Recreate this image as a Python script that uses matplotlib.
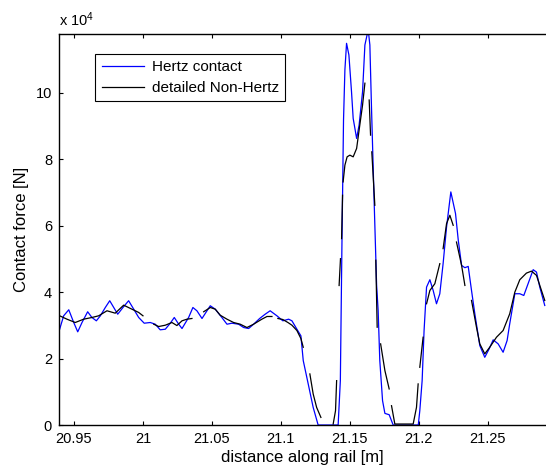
import numpy as np
import matplotlib
matplotlib.use('Agg')
from matplotlib import pyplot as plt
from matplotlib.ticker import FuncFormatter

plt.rcParams['font.family'] = ['Liberation Sans', 'DejaVu Sans']
plt.rcParams['mathtext.default'] = 'regular'

# Hertz contact, distance [m] and force [x 1e4 N]
x_hertz = [20.9396, 20.9425, 20.9462, 20.9498, 20.9527, 20.9558, 20.9599, 20.9630,
           20.9662, 20.9691, 20.9727, 20.9759, 20.9788, 20.9817, 20.9855, 20.9896,
           20.9933, 20.9969, 21.0009, 21.0053, 21.0089, 21.0125, 21.0162, 21.0198,
           21.0227, 21.0259, 21.0283, 21.0331, 21.0362, 21.0391, 21.0428, 21.0464,
           21.0488, 21.0524, 21.0572, 21.0609, 21.0645, 21.0693, 21.0730, 21.0766,
           21.0802, 21.0846, 21.0886, 21.0922, 21.0971, 21.1014, 21.1056, 21.1080,
           21.1116, 21.1145, 21.1162, 21.1198, 21.1234, 21.1270, 21.1379, 21.1415,
           21.1431, 21.1442, 21.1454, 21.1464, 21.1476, 21.1493, 21.1512, 21.1524,
           21.1549, 21.1567, 21.1592, 21.1609, 21.1633, 21.1645, 21.1657, 21.1674,
           21.1694, 21.1705, 21.1717, 21.1737, 21.1754, 21.1785, 21.1814, 21.1996,
           21.2007, 21.2024, 21.2038, 21.2056, 21.2080, 21.2104, 21.2128, 21.2152,
           21.2176, 21.2201, 21.2232, 21.2266, 21.2286, 21.2310, 21.2334, 21.2358,
           21.2382, 21.2406, 21.2442, 21.2478, 21.2510, 21.2539, 21.2575, 21.2611,
           21.2640, 21.2659, 21.2696, 21.2732, 21.2761, 21.2792, 21.2829, 21.2853,
           21.2877, 21.2913]
f_hertz = [2.884, 3.288, 3.469, 3.086, 2.805, 3.086, 3.409, 3.237,
           3.137, 3.288, 3.538, 3.741, 3.538, 3.336, 3.538, 3.741,
           3.487, 3.237, 3.065, 3.086, 3.035, 2.866, 2.884, 3.065,
           3.237, 3.035, 2.905, 3.237, 3.538, 3.439, 3.207, 3.439,
           3.590, 3.487, 3.237, 3.035, 3.065, 3.035, 2.935, 2.905,
           3.035, 3.207, 3.336, 3.439, 3.288, 3.137, 3.186, 3.137,
           2.884, 2.685, 1.940, 1.237, 0.531, 0.0, 0.0, 0.0,
           1.336, 5.258, 9.179, 10.69, 11.49, 11.14, 10.03, 9.23,
           8.627, 9.03, 10.03, 11.44, 11.9, 11.44, 9.53, 7.02,
           4.2, 3.448, 1.94, 0.733, 0.35, 0.31, 0.0, 0.0,
           0.43, 1.336, 2.845, 4.151, 4.374, 4.05, 3.65, 3.95,
           4.857, 5.961, 7.017, 6.365, 5.56, 4.805, 4.736, 4.775,
           4.05, 3.348, 2.392, 2.039, 2.293, 2.564, 2.443, 2.19,
           2.543, 3.047, 3.952, 3.952, 3.9, 4.253, 4.676, 4.603,
           4.151, 3.599]

# detailed Non-Hertz (gaps in the original curve kept as nan)
nan = np.nan
x_nonhertz = [20.9396, 20.9449, 20.9509, 20.9570, 20.9630, 20.9679, 20.9739, 20.9799,
              20.9860, 20.9920, 20.9969, 21.0000, 21.0040,
              21.0078, 21.0114, 21.0162, 21.0210, 21.0246, 21.0283, 21.0319, 21.0355, 21.0400,
              21.0440, 21.0488, 21.0524, 21.0560, 21.0609, 21.0657, 21.0705, 21.0754,
              21.0802, 21.0862, 21.0899, 21.0935, 21.0955,
              21.0978, 21.1014, 21.1051, 21.1080, 21.1116, 21.1145, 21.1162, 21.1190,
              21.1210, 21.1234, 21.1259, 21.1290, 21.1330,
              21.1379, 21.1396, 21.1404, 21.1410,
              21.1422, 21.1432, 21.1436,
              21.1440, 21.1447, 21.1449,
              21.1451, 21.1464, 21.1480, 21.1500, 21.1524, 21.1549, 21.1572, 21.1592,
              21.1609, 21.1625,
              21.1640, 21.1650, 21.1655,
              21.1659, 21.1681, 21.1685,
              21.1688, 21.1698, 21.1710,
              21.1723, 21.1754, 21.1785, 21.1795,
              21.1802, 21.1826, 21.1959, 21.1983, 21.1995, 21.2000,
              21.2007, 21.2031, 21.2042,
              21.2056, 21.2080, 21.2116, 21.2152, 21.2164,
              21.2176, 21.2201, 21.2225, 21.2249, 21.2261,
              21.2273, 21.2310, 21.2334, 21.2358,
              21.2382, 21.2418, 21.2442, 21.2478, 21.2514, 21.2563, 21.2611, 21.2659,
              21.2696, 21.2732, 21.2780, 21.2817, 21.2853, 21.2913]
f_nonhertz = [3.288, 3.186, 3.086, 3.186, 3.237, 3.288, 3.439, 3.367,
              3.608, 3.487, 3.388, 3.288, nan,
              3.035, 2.965, 3.005, 3.086, 2.995, 3.137, 3.186, 3.207, nan,
              3.409, 3.538, 3.487, 3.306, 3.186, 3.086, 3.035, 2.935,
              3.035, 3.186, 3.267, 3.267, nan,
              3.207, 3.176, 3.086, 3.005, 2.845, 2.603, 2.341, nan,
              1.538, 0.935, 0.531, 0.229, nan,
              0.03, 0.431, 1.336, nan,
              4.2, 5.008, nan,
              5.611, 6.917, nan,
              7.318, 7.822, 8.073, 8.124, 8.073, 8.326, 9.029, 9.632,
              10.29, nan,
              9.783, 8.727, nan,
              8.223, 6.615, nan,
              4.96, 2.944, nan,
              2.443, 1.638, 1.086, nan,
              0.582, 0.03, 0.03, 0.531, 1.237, nan,
              1.738, 2.643, nan,
              3.65, 4.05, 4.253, 4.857, nan,
              5.309, 6.063, 6.314, 6.012, nan,
              5.508, 4.805, 4.202, nan,
              3.75, 2.944, 2.443, 2.142, 2.341, 2.643, 2.845, 3.348,
              4.0, 4.374, 4.573, 4.633, 4.504, 3.75]

x_ticks = [20.95, 21.0, 21.05, 21.1, 21.15, 21.2, 21.25]
y_ticks = [0, 2e4, 4e4, 6e4, 8e4, 10e4]

fig = plt.figure(figsize=(5.46, 4.70), dpi=100)
ax = fig.add_axes([0.108, 0.0957, 0.8915, 0.8319])

ax.plot(x_hertz, np.array(f_hertz) * 1e4, color='#0000ff', lw=0.9, label='Hertz contact')
ax.plot(x_nonhertz, np.array(f_nonhertz) * 1e4, color='black', lw=0.9, label='detailed Non-Hertz')

ax.set_xlim(20.9391, 21.292)
ax.set_ylim(0, 11.77e4)
ax.set_xticks(x_ticks)
ax.set_yticks(y_ticks)
ax.xaxis.set_major_formatter(FuncFormatter(lambda v, p: '%g' % round(v, 3)))
ax.yaxis.set_major_formatter(FuncFormatter(lambda v, p: '%g' % (v / 1e4)))
ax.tick_params(direction='in', length=3, width=0.8, top=True, right=False,
               labelsize=10.5, pad=5)
ax.spines['right'].set_visible(False)
for s in ['left', 'bottom', 'top']:
    ax.spines[s].set_linewidth(1.0)

ax.set_xlabel('distance along rail [m]', fontsize=12, labelpad=3)
ax.set_ylabel('Contact force [N]', fontsize=12, labelpad=5)
ax.text(0, 1.012, 'x 10$^{4}$', transform=ax.transAxes, ha='left', va='bottom',
        fontsize=10.5)

leg = ax.legend(loc='upper left', bbox_to_anchor=(0.075, 0.949), borderaxespad=0,
                fancybox=False, framealpha=1, edgecolor='black', fontsize=11,
                handlelength=2.8, handletextpad=0.5, labelspacing=0.45,
                borderpad=0.4)
leg.get_frame().set_linewidth(0.8)

plt.savefig('out.png', dpi=100)
